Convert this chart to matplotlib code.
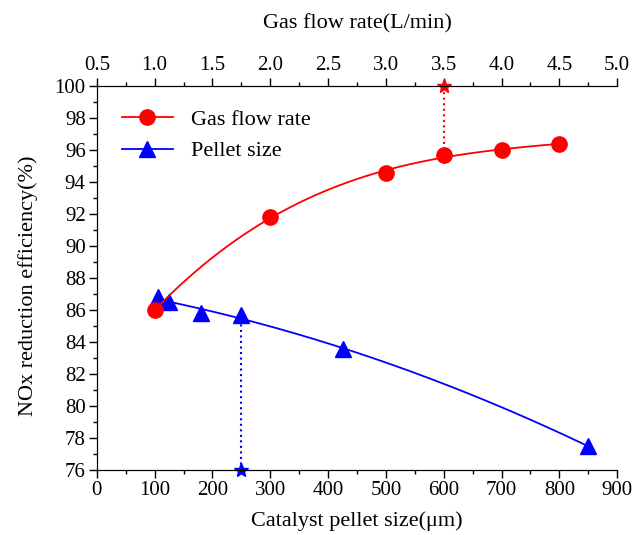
import matplotlib.pyplot as plt
import numpy as np
from matplotlib.lines import Line2D

plt.rcParams['font.family'] = ['Liberation Serif', 'DejaVu Serif']

# gas flow rate series (top axis, L/min)
flow = [1.0, 2.0, 3.0, 3.5, 4.0, 4.5]
flow_eff = [86.0, 91.8, 94.6, 95.7, 96.0, 96.4]

# pellet size series (bottom axis, um)
size = [105, 125, 180, 250, 425, 850]
size_eff = [86.8, 86.5, 85.8, 85.7, 83.6, 77.5]

best_flow = 3.5
best_flow_eff = 95.7
best_size = 250
best_size_eff = 85.7

fig = plt.figure(figsize=(6.33, 5.35), dpi=100)
ax = fig.add_axes([0.153, 0.121, 0.822, 0.718])
ax2 = ax.twiny()

fs = 15
lfs = 16

# pellet size - fitted curve + points
c = np.polyfit(size, size_eff, 2)
xs = np.linspace(min(size), max(size), 200)
ax.plot(xs, np.polyval(c, xs), color='blue', lw=1.3)
ax.plot(size, size_eff, '^', color='blue', ms=11, ls='none')
ax.plot([best_size, best_size], [76, best_size_eff], ':', color='blue', lw=1.5)
ax.plot(best_size, 76, '*', color='blue', ms=10, clip_on=False)

# gas flow - fitted curve + points
c2 = np.polyfit(flow, flow_eff, 3)
xf = np.linspace(min(flow), max(flow), 300)
ax2.plot(xf, np.polyval(c2, xf), color='red', lw=1.3)
ax2.plot(flow, flow_eff, 'o', color='red', ms=11, ls='none')
ax2.plot([best_flow, best_flow], [best_flow_eff, 100], ':', color='red', lw=1.5)
ax2.plot(best_flow, 100, '*', color='red', ms=10, clip_on=False)

ax.set_xlim(0, 900)
ax.set_ylim(76, 100)
ax2.set_xlim(0.5, 5.0)

ax.set_xticks(np.arange(0, 901, 100))
ax.set_xticks(np.arange(50, 900, 100), minor=True)
ax.set_yticks(np.arange(76, 101, 2))
ax.set_yticks(np.arange(77, 100, 2), minor=True)
ax2.set_xticks(np.arange(0.5, 5.01, 0.5))
ax2.set_xticks(np.arange(0.75, 5.0, 0.5), minor=True)
ax2.set_xticklabels(['%.1f' % v for v in np.arange(0.5, 5.01, 0.5)])

for a in (ax, ax2):
    a.spines['right'].set_visible(False)
    a.tick_params(direction='out', labelsize=fs, width=1, length=6, pad=2)
    a.tick_params(which='minor', direction='out', width=1, length=3)
ax2.tick_params(axis='x', which='both', top=True, bottom=False)

ax.set_xlabel('Catalyst pellet size(μm)', fontsize=lfs)
ax.set_ylabel('NOx reduction efficiency(%)', fontsize=lfs)
ax2.set_xlabel('Gas flow rate(L/min)', fontsize=lfs)
ax.xaxis.set_label_coords(0.5, -0.107)
ax.yaxis.set_label_coords(-0.113, 0.48)
ax2.xaxis.set_label_coords(0.5, 1.151)

handles = [Line2D([], [], color='red', marker='o', ms=11, lw=1.3),
           Line2D([], [], color='blue', marker='^', ms=11, lw=1.3)]
ax2.legend(handles, ['Gas flow rate', 'Pellet size'], loc='upper left',
           bbox_to_anchor=(0.048, 0.94), frameon=False, fontsize=lfs,
           handlelength=2.3, handletextpad=0.8, labelspacing=0.5,
           borderaxespad=0, borderpad=0)

fig.savefig('out.png', dpi=100)
